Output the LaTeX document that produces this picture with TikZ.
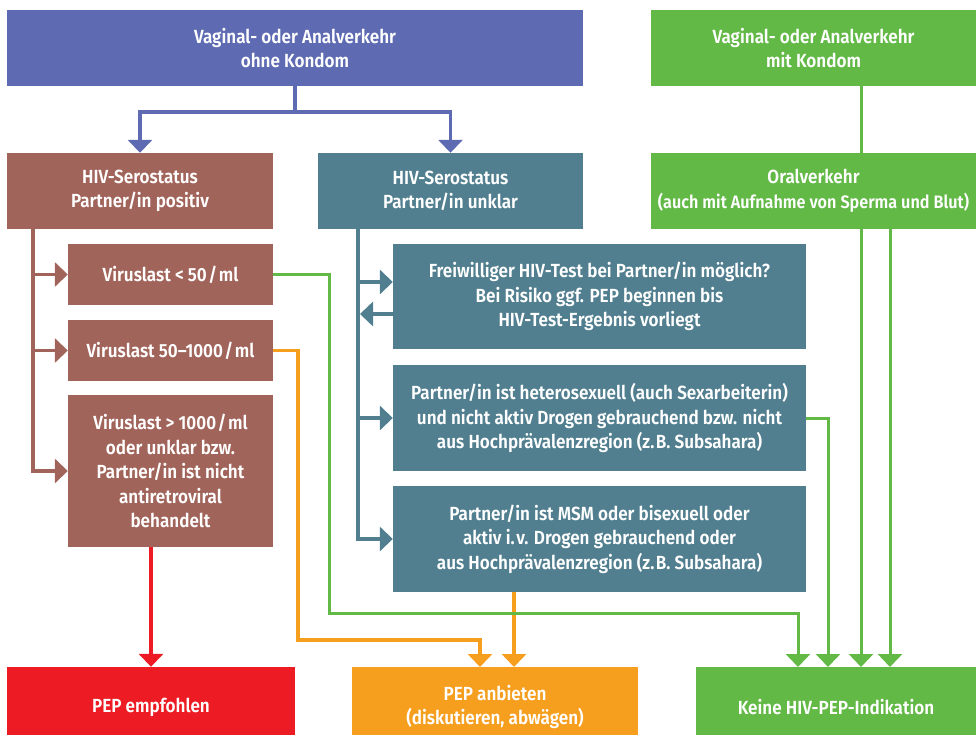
\documentclass[tikz,border=0pt]{standalone}
\usepackage{fontspec}
\setmainfont{Fira Sans SemiBold}[FakeStretch=0.9]
\usetikzlibrary{arrows.meta,backgrounds}
\newcommand\tsp{\kern1.5pt}
\definecolor{cblue}{RGB}{94,107,178}
\definecolor{cbrown}{RGB}{161,100,90}
\definecolor{cteal}{RGB}{81,127,143}
\definecolor{cgreen}{RGB}{98,185,70}
\definecolor{cred}{RGB}{237,28,36}
\definecolor{corange}{RGB}{246,158,30}
\tikzset{
  box/.style={rectangle, inner sep=0pt, text=white, align=center,
    font=\fontsize{19}{24.5}\selectfont},
  conn/.style={line width=3.5pt, -{Triangle[width=24pt,length=13pt]}},
  plain/.style={line width=3.5pt},
}
\begin{document}
\begin{tikzpicture}[x=1pt,y=-1pt]
\useasboundingbox (0,0) rectangle (976,735);
\clip (0,0) rectangle (976,735);
% boxes
\node[box, fill=cblue, minimum width=576pt, minimum height=76pt] (ohne) at (295,48) {Vaginal- oder Analverkehr\\ohne Kondom};
\node[box, fill=cgreen, minimum width=325pt, minimum height=76pt] (mit) at (813.5,48) {Vaginal- oder Analverkehr\\mit Kondom};
\node[box, fill=cbrown, minimum width=266pt, minimum height=76pt] (pos) at (140,191) {HIV-Serostatus\\Partner/in positiv};
\node[box, fill=cteal, minimum width=265pt, minimum height=76pt] (unklar) at (450.5,191) {HIV-Serostatus\\Partner/in unklar};
\node[box, fill=cgreen, minimum width=325pt, minimum height=76pt] (oral) at (813.5,191) {Oralverkehr\\{\fontsize{18}{24.5}\selectfont (auch mit Aufnahme von Sperma und Blut)}};
\node[box, fill=cbrown, minimum width=205pt, minimum height=61pt] (v1) at (170.5,274.5) {Viruslast < 50\tsp/\tsp ml};
\node[box, fill=cbrown, minimum width=205pt, minimum height=61pt] (v2) at (170.5,350.5) {Viruslast 50–1000\tsp/\tsp ml};
\node[box, fill=cbrown, minimum width=205pt, minimum height=152pt] (v3) at (170.5,471) {Viruslast > 1000\tsp/\tsp ml\\oder unklar bzw.\\Partner/in ist nicht\\antiretroviral\\behandelt};
\node[box, fill=cteal, minimum width=413pt, minimum height=105pt] (test) at (599.5,296.5) {Freiwilliger HIV-Test bei Partner/in möglich?\\Bei Risiko ggf. PEP beginnen bis\\HIV-Test-Ergebnis vorliegt};
\node[box, fill=cteal, minimum width=413pt, minimum height=106pt] (het) at (599.5,418) {Partner/in ist heterosexuell (auch Sexarbeiterin)\\und nicht aktiv Drogen gebrauchend bzw. nicht\\aus Hochprävalenzregion (z.\tsp B. Subsahara)};
\node[box, fill=cteal, minimum width=413pt, minimum height=106pt] (msm) at (599.5,539) {Partner/in ist MSM oder bisexuell oder\\aktiv i.\tsp v. Drogen gebrauchend oder\\aus Hochprävalenzregion (z.\tsp B. Subsahara)};
\node[box, fill=cred, minimum width=288pt, minimum height=80pt] (empf) at (151,707) {PEP empfohlen};
\node[box, fill=corange, minimum width=286pt, minimum height=80pt] (anb) at (495,707) {PEP anbieten\\(diskutieren, abwägen)};
\node[box, fill=cgreen, minimum width=280pt, minimum height=80pt] (keine) at (836,707) {Keine HIV-PEP-Indikation};
% helper coordinates
\coordinate (bx) at (33,0);
\coordinate (tx) at (358,0);
\coordinate (ty1) at (0,282);
\coordinate (ty2) at (0,314);
\coordinate (gA) at (329,613);
\coordinate (oA) at (298,640);
\coordinate (k1) at (798,667);
\coordinate (k2) at (828,667);
\coordinate (k3) at (861,667);
\coordinate (k4) at (890,667);
\coordinate (a1) at (480,667);
\coordinate (a2) at (514,667);
\begin{pgfonlayer}{background}
% blue
\draw[plain, cblue] (ohne.south) -- ++(0,26) coordinate (bj);
\draw[conn, cblue] (bj) -| (pos.north);
\draw[conn, cblue] (bj) -| (unklar.north);
% brown
\draw[conn, cbrown] (pos.south -| bx) |- (v3.west);
\draw[conn, cbrown] (v1.west -| bx) -- (v1.west);
\draw[conn, cbrown] (v2.west -| bx) -- (v2.west);
% teal
\draw[conn, cteal] (unklar.south -| tx) |- (msm.west);
\draw[conn, cteal] (tx |- ty1) -- (test.west |- ty1);
\draw[conn, cteal] (test.west |- ty2) -- ([xshift=2pt]tx |- ty2);
\draw[conn, cteal] (het.west -| tx) -- (het.west);
% red
\draw[conn, cred] (empf.north |- v3.south) -- (empf.north);
% orange
\draw[conn, corange] (v2.east) -| (oA) -| (a1);
\draw[conn, corange] (msm.south -| a2) -- (a2);
% green
\draw[conn, cgreen, line width=3pt] (v1.east) -| (gA) -| (k1);
\draw[conn, cgreen, line width=3pt] (het.east) -| (k2);
\draw[conn, cgreen, line width=3pt] (mit.south -| k3) -- (k3);
\draw[conn, cgreen, line width=3pt] (oral.south -| k4) -- (k4);
\end{pgfonlayer}
\end{tikzpicture}
\end{document}
